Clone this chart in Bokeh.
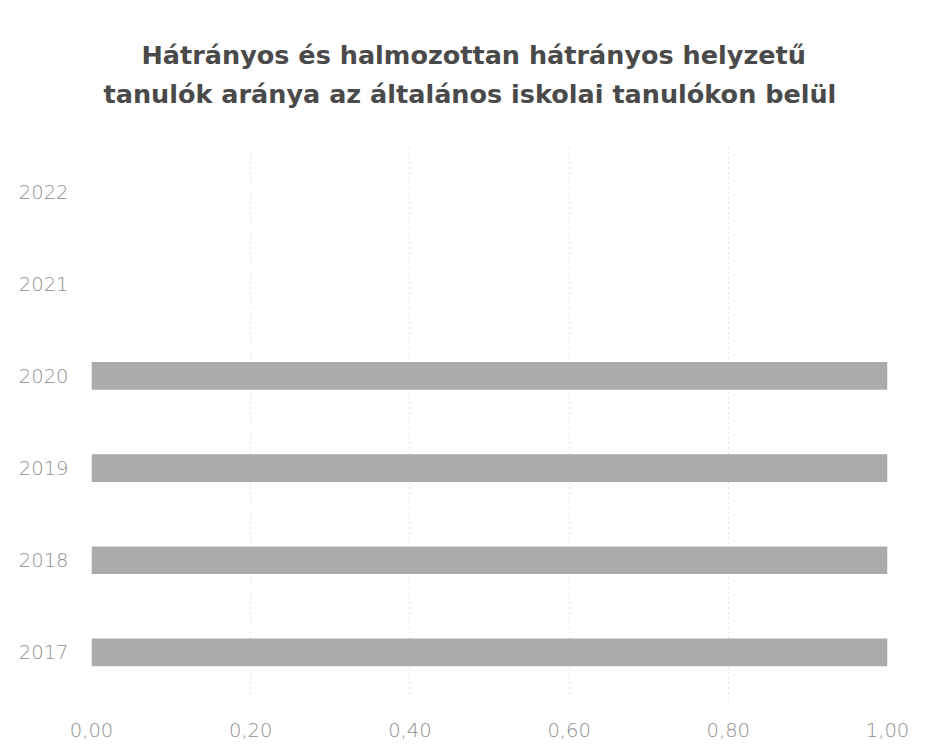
from bokeh.plotting import figure
from bokeh.models import FactorRange, Range1d, FixedTicker, Title, ColumnDataSource
from bokeh.embed import file_html
from bokeh.resources import INLINE

years = ["2017", "2018", "2019", "2020", "2021", "2022"]
values = [1.0, 1.0, 1.0, 1.0, float("nan"), float("nan")]
x_ticks = [0.0, 0.2, 0.4, 0.6, 0.8, 1.0]
x_tick_labels = ["0,00", "0,20", "0,40", "0,60", "0,80", "1,00"]
title_lines = ["Hátrányos és halmozottan hátrányos helyzetű",
               "tanulók aránya az általános iskolai tanulókon belül"]

src = ColumnDataSource(dict(year=years, value=values))

p = figure(width=911, height=746, output_backend="svg", toolbar_location=None,
           y_range=FactorRange(factors=years), x_range=Range1d(0, 1),
           min_border_left=91, min_border_right=24, min_border_bottom=48,
           min_border_top=145)

p.hbar(y="year", right="value", left=0, height=0.3, source=src,
       fill_color="#ababab", line_color=None)

TFONT = "DejaVu Sans"
t2 = Title(text=title_lines[1], align="left", offset=12, text_font=TFONT,
           text_font_style="bold", text_font_size="25.5px", text_color="#4a4a4a",
           standoff=73)
t1 = Title(text=title_lines[0], align="left", offset=50, text_font=TFONT,
           text_font_style="bold", text_font_size="25.5px", text_color="#4a4a4a",
           standoff=-59)
p.add_layout(t2, "above")
p.add_layout(t1, "above")

p.outline_line_color = None
p.background_fill_color = "white"
p.border_fill_color = "white"

p.xaxis.ticker = FixedTicker(ticks=x_ticks)
p.xaxis.major_label_overrides = {t: l for t, l in zip(x_ticks, x_tick_labels)}
for ax in (p.xaxis, p.yaxis):
    ax.axis_line_color = None
    ax.major_tick_line_color = None
    ax.minor_tick_line_color = None
    ax.major_label_text_font = "'DejaVu Sans Light', 'DejaVu Sans'"
    ax.major_label_text_font_size = "19.5px"
    ax.major_label_text_color = "#8f8f8f"
p.xaxis.major_label_standoff = 18
p.yaxis.major_label_standoff = 17

p.ygrid.grid_line_color = None
p.xgrid.grid_line_color = "#c8c8c8"
p.xgrid.grid_line_dash = "1 4"
p.xgrid.grid_line_width = 1

open("out.html", "w").write(file_html(p, INLINE))
